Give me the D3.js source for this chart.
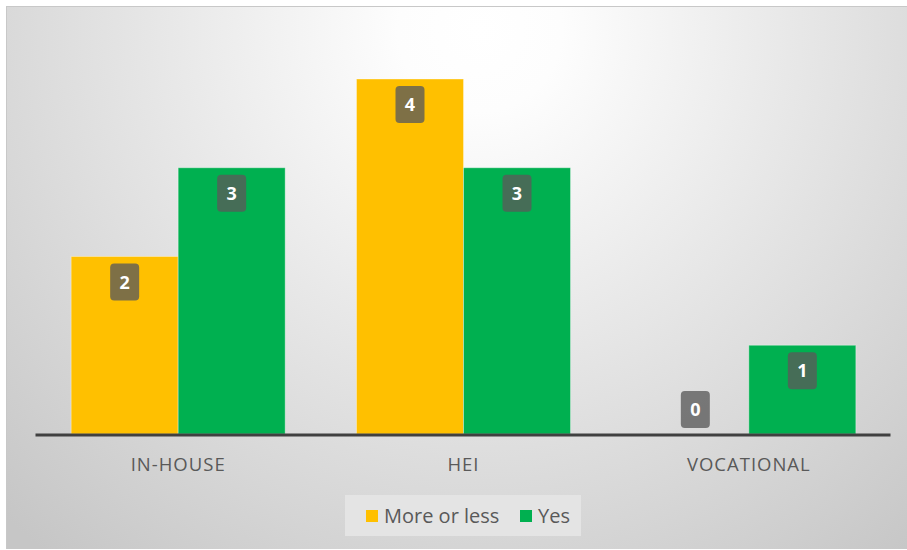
<!DOCTYPE html>
<html>
<head>
<meta charset="utf-8">
<script src="https://cdn.jsdelivr.net/npm/d3@7"></script>
<style>
  html, body { margin: 0; padding: 0; background: #ffffff; }
  svg { display: block; }
</style>
</head>
<body>
<svg id="chart" width="907" height="550"></svg>
<script>
const categories = ["IN-HOUSE", "HEI", "VOCATIONAL"];
const seriesNames = ["More or less", "Yes"];
const moreOrLess = [2, 4, 0];
const yes = [3, 3, 1];
const seriesColors = ["#FFC000", "#00B050"];

const svg = d3.select("#chart");
const W = 907, H = 550;

const defs = svg.append("defs");
const grad = defs.append("radialGradient")
  .attr("id", "bg").attr("gradientUnits", "userSpaceOnUse")
  .attr("cx", 480).attr("cy", 30).attr("r", 680);
grad.append("stop").attr("offset", "0").attr("stop-color", "#ffffff");
grad.append("stop").attr("offset", "0.12").attr("stop-color", "#fdfdfd");
grad.append("stop").attr("offset", "1").attr("stop-color", "#c6c6c6");

svg.append("rect").attr("x", 6).attr("y", 6).attr("width", W - 6).attr("height", H - 7)
  .attr("fill", "url(#bg)");
svg.append("line").attr("x1", 6).attr("x2", W).attr("y1", 6.5).attr("y2", 6.5)
  .attr("stroke", "#c8c8c8").attr("stroke-width", 1);
svg.append("line").attr("x1", 6.5).attr("x2", 6.5).attr("y1", 6).attr("y2", H - 1)
  .attr("stroke", "#c8c8c8").attr("stroke-width", 1);

const plotLeft = 35.5, plotRight = 891.5, baseY = 434;
const x0 = d3.scaleBand().domain(categories).range([plotLeft, plotRight]).padding(0);
const x1 = d3.scaleBand().domain(seriesNames)
  .range([x0.bandwidth() * 0.125, x0.bandwidth() * 0.875]).padding(0);
const y = d3.scaleLinear().domain([0, 4]).range([baseY, 79]);

const data = categories.map((c, i) => ({
  cat: c,
  vals: [{ s: seriesNames[0], v: moreOrLess[i], color: seriesColors[0] },
         { s: seriesNames[1], v: yes[i], color: seriesColors[1] }]
}));

const groups = svg.append("g").selectAll("g").data(data).join("g")
  .attr("transform", d => `translate(${x0(d.cat)},0)`);

groups.selectAll("rect").data(d => d.vals).join("rect")
  .attr("x", d => x1(d.s))
  .attr("y", d => y(d.v))
  .attr("width", x1.bandwidth())
  .attr("height", d => baseY - y(d.v))
  .attr("fill", d => d.color)
  .attr("stroke", d => d.v > 0 ? "rgba(255,255,255,0.35)" : "none")
  .attr("stroke-width", 1);

// axis line
svg.append("line").attr("x1", plotLeft).attr("x2", plotRight - 1)
  .attr("y1", baseY + 1).attr("y2", baseY + 1)
  .attr("stroke", "#404040").attr("stroke-width", 3);

// category labels via axis
const xAxis = svg.append("g").attr("transform", `translate(0,${baseY})`)
  .call(d3.axisBottom(x0).tickSize(0).tickPadding(24));
xAxis.select(".domain").remove();
xAxis.selectAll("text")
  .attr("fill", "#595959")
  .style("font-family", "'Open Sans', sans-serif")
  .style("font-size", "18.5px")
  .style("letter-spacing", "1px");

// data labels
const bw = 29, bh = 37;
const lbl = groups.selectAll("g.lbl").data(d => d.vals).join("g").attr("class", "lbl")
  .attr("transform", d => {
    const cx = x1(d.s) + x1.bandwidth() / 2;
    const top = d.v > 0 ? y(d.v) + 7 : baseY - 6 - bh;
    return `translate(${cx},${top})`;
  });
lbl.append("rect")
  .attr("x", -bw / 2).attr("y", 0).attr("width", bw).attr("height", bh)
  .attr("rx", 4).attr("ry", 4)
  .attr("fill", "rgba(90,90,90,0.78)");
lbl.append("text")
  .attr("x", 0).attr("y", bh / 2 + 6.5)
  .attr("text-anchor", "middle")
  .attr("fill", "#ffffff")
  .style("font-family", "'Open Sans', sans-serif")
  .style("font-weight", "bold")
  .style("font-size", "18px")
  .text(d => d.v);

// legend
const leg = svg.append("g");
leg.append("rect").attr("x", 345).attr("y", 495).attr("width", 236).attr("height", 41)
  .attr("fill", "#e4e4e4");
const legItems = [
  { name: seriesNames[0], color: seriesColors[0], sx: 366, tx: 384 },
  { name: seriesNames[1], color: seriesColors[1], sx: 520, tx: 538 }
];
leg.selectAll("rect.sw").data(legItems).join("rect").attr("class", "sw")
  .attr("x", d => d.sx).attr("y", 510).attr("width", 12).attr("height", 12)
  .attr("fill", d => d.color);
leg.selectAll("text").data(legItems).join("text")
  .attr("x", d => d.tx).attr("y", 523)
  .attr("fill", "#595959")
  .style("font-family", "'Open Sans', sans-serif")
  .style("font-size", "20px")
  .text(d => d.name);
</script>
</body>
</html>
